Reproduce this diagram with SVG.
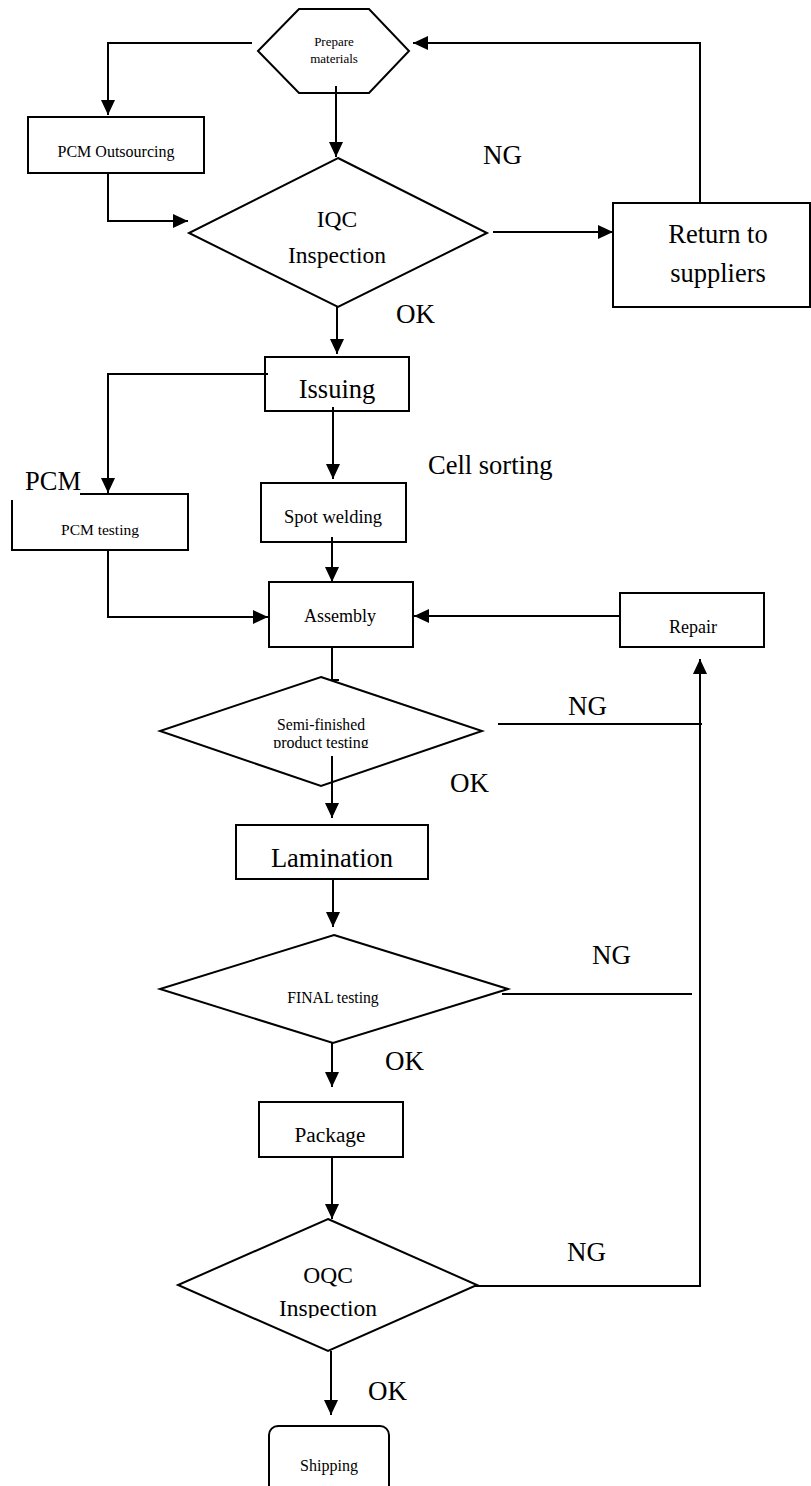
<svg xmlns="http://www.w3.org/2000/svg" width="811" height="1486" viewBox="0 0 811 1486">
<style>
.s{fill:#fff;stroke:#000;stroke-width:2}
.c{fill:none;stroke:#000;stroke-width:2}
text{font-family:"Liberation Serif","Times New Roman",serif;fill:#000}
.m{text-anchor:middle}
.lb{font-size:27px}
</style>
<defs>
<marker id="ah" markerUnits="userSpaceOnUse" markerWidth="15" markerHeight="14" refX="15" refY="7" orient="auto">
<path d="M0,0 L15,7 L0,14 z" fill="#000"/>
</marker>
<clipPath id="clipSemi"><rect x="150" y="670" width="340" height="78"/></clipPath>
<clipPath id="clipOqc"><rect x="170" y="1215" width="320" height="103"/></clipPath>
</defs>
<rect width="811" height="1486" fill="#fff"/>

<g id="prepare">
<polygon class="s" points="258,51 299,9 369,9 409,51 369,93 299,93"/>
<text class="m" x="334" y="46" font-size="13">Prepare</text>
<text class="m" x="334" y="63" font-size="13">materials</text>
</g>
<g id="pcm-outsourcing">
<rect class="s" x="28" y="117" width="176" height="56"/>
<text class="m" x="116" y="157" font-size="16">PCM Outsourcing</text>
</g>
<g id="iqc">
<polygon class="s" points="338,158 487,233 338,307 189,233"/>
<text class="m" x="337" y="227" font-size="23.5">IQC</text>
<text class="m" x="337" y="263" font-size="23.5">Inspection</text>
</g>
<g id="return">
<rect class="s" x="613" y="203" width="197" height="104"/>
<text class="m" x="718" y="243" font-size="26.5">Return to</text>
<text class="m" x="718" y="282" font-size="26.5">suppliers</text>
</g>
<g id="issuing">
<rect class="s" x="265" y="357" width="144" height="54"/>
<text class="m" x="337" y="398" font-size="26.5">Issuing</text>
</g>
<g id="pcm-testing">
<path class="s" d="M80,494 H188 V550 H12 V500"/>
<text x="25" y="490" font-size="26.5">PCM</text>
<text class="m" x="100" y="535" font-size="15.5">PCM testing</text>
</g>
<g id="spot-welding">
<rect class="s" x="261" y="483" width="145" height="59"/>
<text class="m" x="333" y="523" font-size="18.5">Spot welding</text>
</g>
<g id="assembly">
<rect class="s" x="269" y="582" width="144" height="65"/>
<text class="m" x="340" y="622" font-size="18">Assembly</text>
</g>
<g id="repair">
<rect class="s" x="620" y="593" width="144" height="54"/>
<text class="m" x="693" y="633" font-size="18">Repair</text>
</g>
<g id="semi">
<polygon class="s" points="321,677 482,731 321,786 160,731"/>
<g clip-path="url(#clipSemi)">
<text class="m" x="321" y="730" font-size="15.7">Semi-finished</text>
<text class="m" x="321" y="748" font-size="16">product testing</text>
</g>
</g>
<g id="lamination">
<rect class="s" x="236" y="825" width="192" height="54"/>
<text class="m" x="332" y="867" font-size="26.5">Lamination</text>
</g>
<g id="final">
<polygon class="s" points="334,935 508,989 333,1043 160,989"/>
<text class="m" x="333" y="1003" font-size="15.7">FINAL testing</text>
</g>
<g id="package">
<rect class="s" x="259" y="1102" width="144" height="55"/>
<text class="m" x="330" y="1142" font-size="21.3">Package</text>
</g>
<g id="oqc">
<polygon class="s" points="328,1219 477,1285 328,1351 178,1285"/>
<g clip-path="url(#clipOqc)">
<text class="m" x="328" y="1283" font-size="23.5">OQC</text>
<text class="m" x="328" y="1316" font-size="23.5">Inspection</text>
</g>
</g>
<g id="shipping">
<rect class="s" x="269" y="1426" width="120" height="75" rx="9" ry="9"/>
<text class="m" x="329" y="1471" font-size="16">Shipping</text>
</g>

<g id="connectors">
<path class="c" d="M252,43 H108 V115" marker-end="url(#ah)"/>
<path class="c" d="M336,86 V157" marker-end="url(#ah)"/>
<path class="c" d="M108,173 V221 H188" marker-end="url(#ah)"/>
<path class="c" d="M493,232 H613" marker-end="url(#ah)"/>
<path class="c" d="M700,203 V43 H413" marker-end="url(#ah)"/>
<path class="c" d="M337,307 V354" marker-end="url(#ah)"/>
<path class="c" d="M268,374 H108 V493" marker-end="url(#ah)"/>
<path class="c" d="M333,407 V479" marker-end="url(#ah)"/>
<path class="c" d="M332,537 V582" marker-end="url(#ah)"/>
<path class="c" d="M108,550 V617 H268" marker-end="url(#ah)"/>
<path class="c" d="M620,616 H414" marker-end="url(#ah)"/>
<path class="c" d="M332,647 V680 H339"/>
<path class="c" d="M332,756 V818" marker-end="url(#ah)"/>
<path class="c" d="M498,724 H702"/>
<path class="c" d="M333,879 V927" marker-end="url(#ah)"/>
<path class="c" d="M502,994 H692"/>
<path class="c" d="M332,1043 V1087" marker-end="url(#ah)"/>
<path class="c" d="M332,1157 V1219" marker-end="url(#ah)"/>
<path class="c" d="M475,1286 H700 V659" marker-end="url(#ah)"/>
<path class="c" d="M331,1351 V1415" marker-end="url(#ah)"/>
</g>

<g id="labels">
<text class="lb" x="483" y="164">NG</text>
<text class="lb" x="396" y="323">OK</text>
<text x="428" y="474" font-size="26.5">Cell sorting</text>
<text class="lb" x="568" y="715">NG</text>
<text class="lb" x="450" y="792">OK</text>
<text class="lb" x="592" y="964">NG</text>
<text class="lb" x="385" y="1070">OK</text>
<text class="lb" x="567" y="1261">NG</text>
<text class="lb" x="368" y="1400">OK</text>
</g>
</svg>
